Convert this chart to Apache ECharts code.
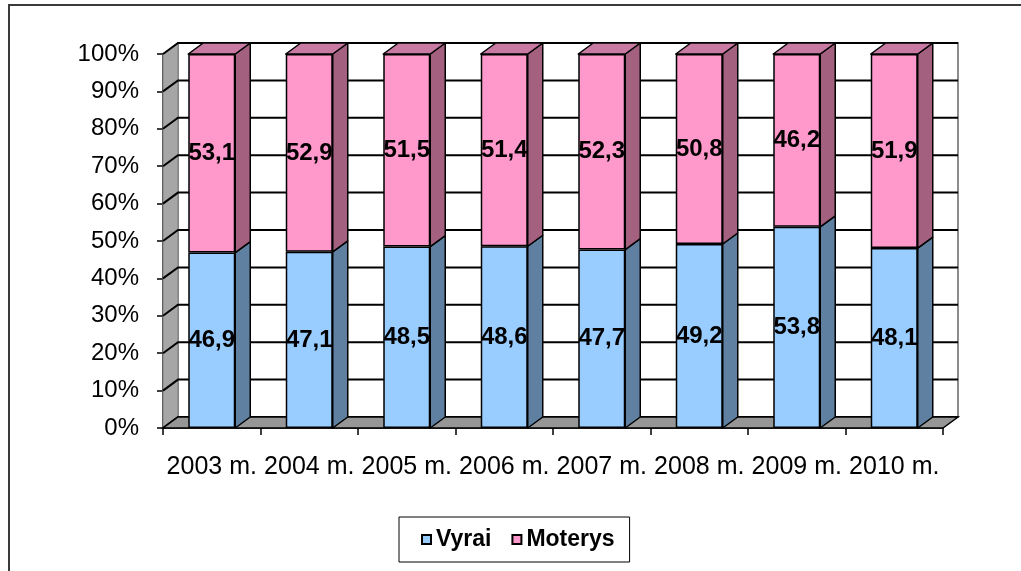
<!DOCTYPE html>
<html>
<head>
<meta charset="utf-8">
<script src="https://cdn.jsdelivr.net/npm/echarts@6/dist/echarts.min.js"></script>
<style>
html,body{margin:0;padding:0;background:#fff;}
#chart{width:1021px;height:571px;}
</style>
</head>
<body>
<div id="chart"></div>
<script>
// duomenys
var years = ['2003 m.', '2004 m.', '2005 m.', '2006 m.', '2007 m.', '2008 m.', '2009 m.', '2010 m.'];
var vyrai = [46.9, 47.1, 48.5, 48.6, 47.7, 49.2, 53.8, 48.1];
var moterys = [53.1, 52.9, 51.5, 51.4, 52.3, 50.8, 46.2, 51.9];
var yTicks = [0, 10, 20, 30, 40, 50, 60, 70, 80, 90, 100];

var DX = 15, DY = -11, BAR_W = 47;
var FONT = 'Liberation Sans, Arial, sans-serif';

function fmt(v) {
    return String(v).replace('.', ',');
}

// sienos (kaire + gale)
function renderWalls(params, api) {
    var bw = api.size([1, 0])[0];
    var p0 = api.coord([0, 0]), p1 = api.coord([0, 100]);
    var xl = p0[0] - bw / 2, xr = xl + bw * years.length;
    return {
        type: 'group',
        children: [{
            type: 'rect',
            shape: {x: xl + DX, y: p1[1] + DY, width: xr - xl, height: p0[1] - p1[1]},
            style: {fill: '#fff', stroke: '#8c8c8c', lineWidth: 2}
        }, {
            type: 'polygon',
            shape: {points: [[xl, p0[1]], [xl, p1[1]], [xl + DX, p1[1] + DY], [xl + DX, p0[1] + DY]]},
            style: {fill: '#a6a6a6', stroke: '#7f7f7f', lineWidth: 1}
        }]
    };
}

// tinklelio linijos
function renderGrid(params, api) {
    var bw = api.size([1, 0])[0];
    var p = api.coord([0, api.value(1)]);
    var xl = p[0] - bw / 2, xr = xl + bw * years.length;
    return {
        type: 'polyline',
        shape: {points: [[xl, p[1]], [xl + DX, p[1] + DY], [xr + DX, p[1] + DY]]},
        style: {stroke: '#000', lineWidth: 2, fill: null}
    };
}

// grindys
function renderFloor(params, api) {
    var bw = api.size([1, 0])[0];
    var p0 = api.coord([0, 0]);
    var xl = p0[0] - bw / 2, xr = xl + bw * years.length;
    return {
        type: 'polygon',
        shape: {points: [[xl, p0[1]], [xr, p0[1]], [xr + DX, p0[1] + DY], [xl + DX, p0[1] + DY]]},
        style: {fill: '#969696', stroke: '#000', lineWidth: 1.5}
    };
}

// stulpeliu sonai ir virsus
function renderSides(params, api) {
    var i = api.value(0);
    var a = api.value(1), b = api.value(2);
    var p0 = api.coord([i, 0]), pb = api.coord([i, a]), pt = api.coord([i, a + b]);
    var xl = p0[0] - BAR_W / 2, xr = p0[0] + BAR_W / 2;
    var st = {stroke: '#000', lineWidth: 1.5, lineJoin: 'round'};
    return {
        type: 'group',
        children: [{
            type: 'polygon',
            shape: {points: [[xr, p0[1]], [xr, pb[1]], [xr + DX, pb[1] + DY], [xr + DX, p0[1] + DY]]},
            style: Object.assign({fill: '#5f80a0'}, st)
        }, {
            type: 'polygon',
            shape: {points: [[xr, pb[1]], [xr, pt[1]], [xr + DX, pt[1] + DY], [xr + DX, pb[1] + DY]]},
            style: Object.assign({fill: '#a3617f'}, st)
        }, {
            type: 'polygon',
            shape: {points: [[xl, pt[1]], [xr, pt[1]], [xr + DX, pt[1] + DY], [xl + DX, pt[1] + DY]]},
            style: Object.assign({fill: '#c97aa2'}, st)
        }]
    };
}

var sideData = [];
for (var i = 0; i < years.length; i++) {
    sideData.push([i, vyrai[i], moterys[i]]);
}
var gridData = [];
for (var j = 0; j < yTicks.length; j++) {
    gridData.push([0, yTicks[j]]);
}

var labelStyle = {
    show: true,
    position: 'inside',
    color: '#000',
    fontFamily: FONT,
    fontWeight: 'bold',
    fontSize: 24,
    formatter: function (p) { return fmt(p.value); }
};

var myChart = echarts.init(document.getElementById('chart'));
var option = {
    animation: false,
    backgroundColor: '#fff',
    graphic: [{
        type: 'rect',
        shape: {x: 9, y: 5, width: 1100, height: 700},
        style: {fill: 'none', stroke: '#3a3a3a', lineWidth: 2},
        silent: true
    }],
    grid: {left: 163, right: 78, top: 54, bottom: 143},
    legend: {
        data: ['Vyrai', 'Moterys'],
        left: 399,
        top: 517,
        padding: [11, 15, 11, 22],
        itemGap: 20,
        itemWidth: 9,
        itemHeight: 9,
        icon: 'rect',
        borderColor: '#000',
        borderWidth: 1,
        itemStyle: {borderColor: '#000', borderWidth: 2},
        textStyle: {fontFamily: FONT, fontWeight: 'bold', fontSize: 23, color: '#000'}
    },
    xAxis: {
        type: 'category',
        data: years,
        axisLine: {lineStyle: {color: '#000', width: 1.5}},
        axisTick: {show: true, interval: 0, length: 7, lineStyle: {color: '#000', width: 1.5}},
        axisLabel: {color: '#000', fontFamily: FONT, fontSize: 25, margin: 27, interval: 0, hideOverlap: false}
    },
    yAxis: {
        type: 'value',
        min: 0,
        max: 100,
        interval: 10,
        splitLine: {show: false},
        axisLine: {show: true, lineStyle: {color: '#000', width: 1.5}},
        axisTick: {show: true, length: 6, lineStyle: {color: '#000', width: 1.5}},
        axisLabel: {color: '#000', fontFamily: FONT, fontSize: 24, margin: 24, formatter: '{value}%'}
    },
    series: [{
        type: 'custom',
        name: 'walls',
        z: 1,
        silent: true,
        data: [[0, 0]],
        renderItem: renderWalls
    }, {
        type: 'custom',
        name: 'grid',
        z: 2,
        silent: true,
        data: gridData,
        renderItem: renderGrid
    }, {
        type: 'custom',
        name: 'floor',
        z: 3,
        silent: true,
        data: [[0, 0]],
        renderItem: renderFloor
    }, {
        type: 'custom',
        name: 'sides',
        z: 4,
        silent: true,
        data: sideData,
        renderItem: renderSides
    }, {
        name: 'Vyrai',
        type: 'bar',
        stack: 'total',
        z: 5,
        barWidth: BAR_W,
        data: vyrai,
        itemStyle: {color: '#99ccff', borderColor: '#000', borderWidth: 1.5},
        label: labelStyle
    }, {
        name: 'Moterys',
        type: 'bar',
        stack: 'total',
        z: 5,
        barWidth: BAR_W,
        data: moterys,
        itemStyle: {color: '#ff99cc', borderColor: '#000', borderWidth: 1.5},
        label: labelStyle
    }]
};
myChart.setOption(option);
</script>
</body>
</html>
